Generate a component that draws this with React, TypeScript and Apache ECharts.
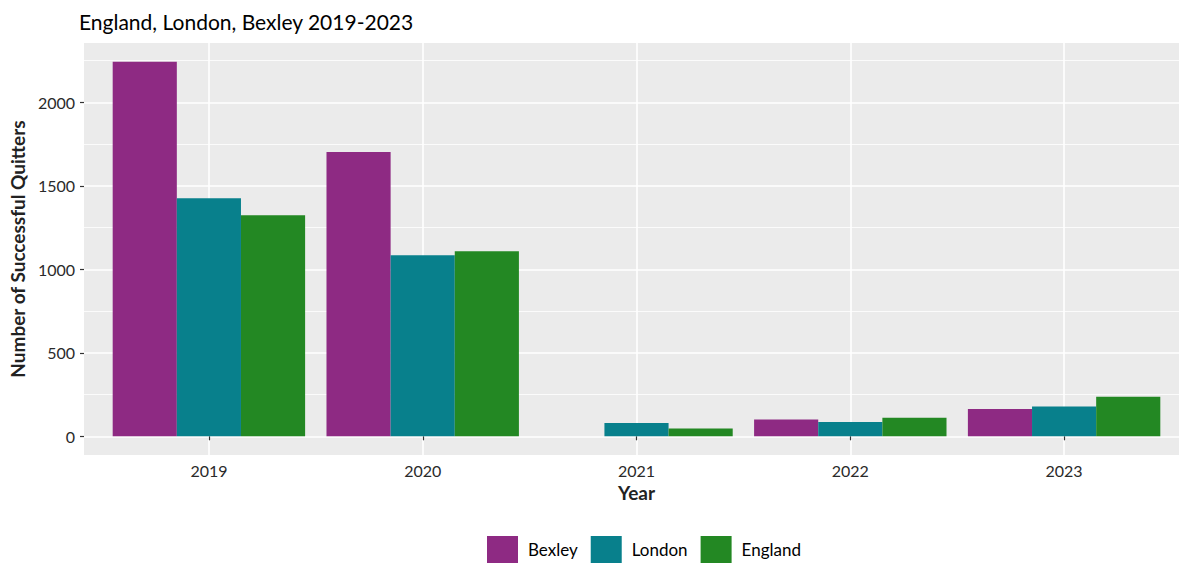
import React, { useEffect, useRef } from "react";
import * as echarts from "echarts";

const years = ["2019", "2020", "2021", "2022", "2023"];
const bexley = [2243, 1703, null, 101, 163];
const london = [1426, 1084, 79, 85, 179];
const england = [1324, 1108, 47, 111, 237];
const yTicks = [0, 500, 1000, 1500, 2000];
const yMinorTicks = [250, 750, 1250, 1750, 2250];
const yMin = -112;
const yMax = 2355;

const FONT = "Lato";

export default function App() {
  const ref = useRef<HTMLDivElement>(null);
  useEffect(() => {
    if (!ref.current) return;
    const chart = echarts.init(ref.current, null, { renderer: "svg" });
    const white = "#FFFFFF";
    chart.setOption({
      animation: false,
      textStyle: { fontFamily: FONT },
      title: {
        text: "England, London, Bexley 2019-2023",
        left: 74,
        top: 6,
        textStyle: { fontFamily: FONT, fontSize: 21, fontWeight: "normal", color: "#000" },
      },
      legend: {
        top: 536,
        left: 487,
        padding: 0,
        itemWidth: 31,
        itemHeight: 27,
        itemGap: 13,
        icon: "rect",
        textStyle: { fontFamily: FONT, fontSize: 17, color: "#000", padding: [0, 0, 0, 5] },
        data: ["Bexley", "London", "England"],
      },
      grid: [
        { left: 80, right: 0, top: 43, bottom: 108, show: true, backgroundColor: "#EBEBEB", borderWidth: 0 },
        { left: 209, right: 115, top: 43, bottom: 108 },
        { left: 102, right: 8, top: 43, bottom: 108 },
      ],
      xAxis: [
        { gridIndex: 0, type: "value", show: false },
        {
          gridIndex: 1,
          type: "category",
          boundaryGap: false,
          data: years,
          axisLine: { show: false },
          axisTick: { show: true, length: 4, lineStyle: { color: "#333", width: 1.2 } },
          axisLabel: { fontFamily: FONT, fontSize: 16, color: "#2a2a2a", margin: 7 },
          splitLine: { show: true, lineStyle: { color: white, width: 1.6 } },
          name: "Year",
          nameLocation: "middle",
          nameGap: 27,
          nameTextStyle: { fontFamily: FONT, fontSize: 19, fontWeight: "bold", color: "#222" },
        },
        { gridIndex: 2, type: "category", data: years, show: false },
      ],
      yAxis: [
        {
          gridIndex: 0,
          type: "value",
          min: yMin,
          max: yMax,
          axisLine: { show: false },
          axisTick: { show: true, length: 4, lineStyle: { color: "#333", width: 1.2 }, customValues: yTicks },
          axisLabel: {
            fontFamily: FONT,
            fontSize: 16,
            color: "#2a2a2a",
            margin: 9,
            customValues: yTicks,
            formatter: (v: number) => String(v),
          },
          splitLine: { show: true, lineStyle: { color: white, width: 1.6 } },
          name: "Number of Successful Quitters",
          nameLocation: "middle",
          nameGap: 56,
          nameTextStyle: { fontFamily: FONT, fontSize: 19, fontWeight: "bold", color: "#222" },
        },
        {
          gridIndex: 0,
          type: "value",
          min: yMin,
          max: yMax,
          axisLine: { show: false },
          axisTick: { show: false, customValues: yMinorTicks },
          axisLabel: { show: false, customValues: yMinorTicks },
          splitLine: { show: true, lineStyle: { color: white, width: 0.8 } },
        },
        { gridIndex: 1, type: "value", show: false, min: yMin, max: yMax, splitLine: { show: false } },
        { gridIndex: 2, type: "value", show: false, min: yMin, max: yMax, splitLine: { show: false } },
      ],
      series: [
        {
          name: "Bexley",
          type: "bar",
          xAxisIndex: 2,
          yAxisIndex: 3,
          data: bexley,
          barGap: 0,
          barCategoryGap: "10%",
          itemStyle: { color: "#8E2A83" },
        },
        {
          name: "London",
          type: "bar",
          xAxisIndex: 2,
          yAxisIndex: 3,
          data: london,
          barGap: 0,
          barCategoryGap: "10%",
          itemStyle: { color: "#08808C" },
        },
        {
          name: "England",
          type: "bar",
          xAxisIndex: 2,
          yAxisIndex: 3,
          data: england,
          barGap: 0,
          barCategoryGap: "10%",
          itemStyle: { color: "#238823" },
        },
      ],
    });
    return () => chart.dispose();
  }, []);
  return <div ref={ref} style={{ width: 1179, height: 563, position: "absolute", left: 0, top: 0 }} />;
}
